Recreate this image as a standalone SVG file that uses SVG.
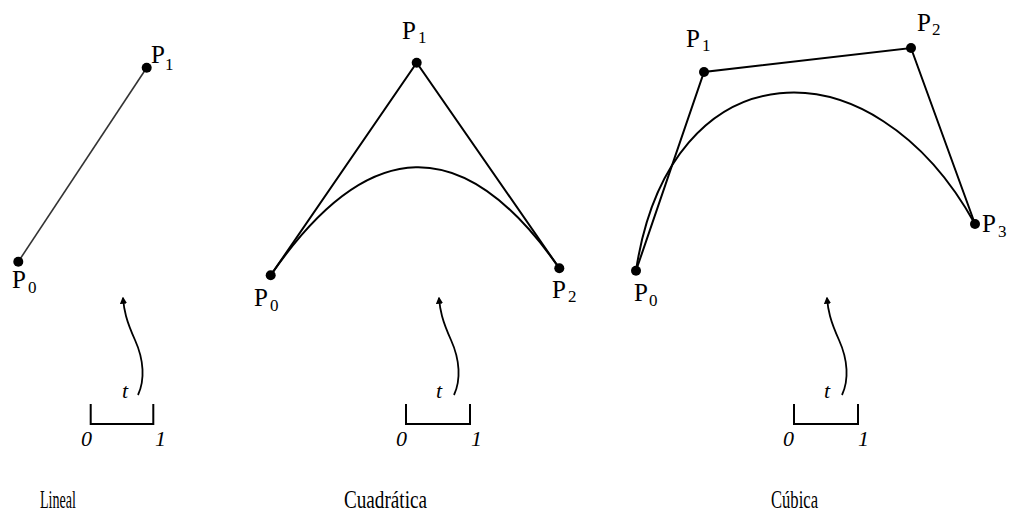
<svg xmlns="http://www.w3.org/2000/svg" width="1015" height="517" viewBox="0 0 1015 517">
<defs>
<style>
.ln{fill:none;stroke:#000;stroke-width:2}
.thin{fill:none;stroke:#333;stroke-width:1.6}
.dot{fill:#000}
.lab{font-family:"Liberation Serif",serif;font-size:25px;fill:#000}
.sub{font-family:"Liberation Serif",serif;font-size:17px;fill:#000}
.it{font-family:"Liberation Serif",serif;font-style:italic;font-size:22px;fill:#000}
.cap{font-family:"Liberation Serif",serif;font-size:26px;fill:#000}
.arr{fill:none;stroke:#000;stroke-width:1.8;marker-end:url(#ah)}
</style>
<marker id="ah" viewBox="0 0 10 10" refX="8" refY="5" markerWidth="4" markerHeight="4" orient="auto" markerUnits="strokeWidth">
<path d="M0,0 L10,5 L0,10 Z" fill="#000"/>
</marker>
<path id="tarrow" d="M138,395 C145,380 144,360 135,340 S124,310 123,298"/>
</defs>
<g id="connectors">
<line class="thin" x1="18.3" y1="261.7" x2="146.7" y2="67.7"/>
<polyline class="ln" points="270.7,275.3 416.7,62.7 559.3,268.3"/>
<path class="ln" d="M270.7,275.3 Q416.7,62.7 559.3,268.3"/>
<polyline class="ln" points="636,270.7 704,72 911,48 975,224"/>
<path class="ln" d="M636,270.7 C670,46 872,38 975,224"/>
</g>
<g id="lineal">
<g id="lin-p0"><circle class="dot" cx="18.3" cy="261.7" r="5"/><text class="lab" x="12" y="288">P</text><text class="sub" x="28" y="293">0</text></g>
<g id="lin-p1"><circle class="dot" cx="146.7" cy="67.7" r="5"/><text class="lab" x="151" y="63">P</text><text class="sub" x="165" y="70">1</text></g>
<g id="lin-param">
<use href="#tarrow" class="arr"/>
<text class="it" x="122" y="398">t</text>
<polyline class="ln" points="90.7,404 90.7,424 153.3,424 153.3,404"/>
<text class="it" x="81" y="446">0</text>
<text class="it" x="155" y="446">1</text>
</g>
<text class="cap" x="40" y="508" textLength="36" lengthAdjust="spacingAndGlyphs">Lineal</text>
</g>
<g id="cuadratica">
<g id="quad-p0"><circle class="dot" cx="270.7" cy="275.3" r="5"/><text class="lab" x="254" y="306">P</text><text class="sub" x="270" y="311">0</text></g>
<g id="quad-p1"><circle class="dot" cx="416.7" cy="62.7" r="5"/><text class="lab" x="402" y="39">P</text><text class="sub" x="418" y="43">1</text></g>
<g id="quad-p2"><circle class="dot" cx="559.3" cy="268.3" r="5"/><text class="lab" x="552" y="298">P</text><text class="sub" x="568" y="302">2</text></g>
<g id="quad-param" transform="translate(316,0)">
<use href="#tarrow" class="arr"/>
<polyline class="ln" points="90,404 90,424 154,424 154,404"/>
</g>
<text class="it" x="436" y="398">t</text>
<text class="it" x="396" y="446">0</text>
<text class="it" x="471" y="446">1</text>
<text class="cap" x="344" y="508" textLength="83" lengthAdjust="spacingAndGlyphs">Cuadrática</text>
</g>
<g id="cubica">
<g id="cub-p0"><circle class="dot" cx="636" cy="270.7" r="5"/><text class="lab" x="634" y="301">P</text><text class="sub" x="649" y="306">0</text></g>
<g id="cub-p1"><circle class="dot" cx="704" cy="72" r="5"/><text class="lab" x="686" y="47">P</text><text class="sub" x="702" y="51">1</text></g>
<g id="cub-p2"><circle class="dot" cx="911" cy="48" r="5"/><text class="lab" x="917" y="31">P</text><text class="sub" x="932" y="35">2</text></g>
<g id="cub-p3"><circle class="dot" cx="975" cy="224" r="5"/><text class="lab" x="982" y="232">P</text><text class="sub" x="998" y="237">3</text></g>
<g id="cub-param" transform="translate(704,0)">
<use href="#tarrow" class="arr"/>
<polyline class="ln" points="90,404 90,424 154,424 154,404"/>
</g>
<text class="it" x="824" y="398">t</text>
<text class="it" x="783" y="446">0</text>
<text class="it" x="858" y="446">1</text>
<text class="cap" x="771" y="508" textLength="47" lengthAdjust="spacingAndGlyphs">Cúbica</text>
</g>
</svg>
